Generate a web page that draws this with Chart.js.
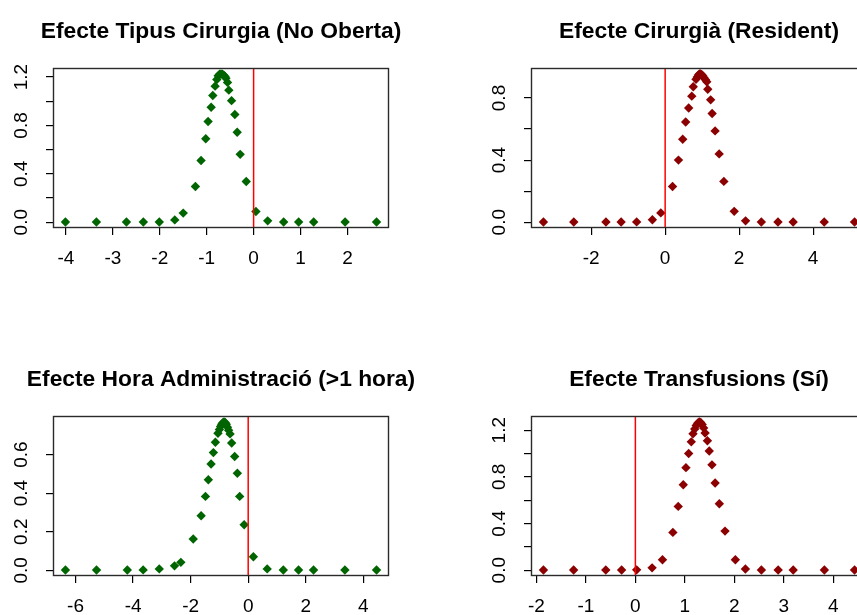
<!DOCTYPE html>
<html>
<head>
<meta charset="utf-8">
<script src="https://cdn.jsdelivr.net/npm/chart.js@4/dist/chart.umd.min.js"></script>
<style>
  html, body { margin: 0; padding: 0; background: #fff; overflow: hidden; }
  #page { position: relative; width: 857px; height: 615px; overflow: hidden; background: #fff; }
  #page canvas { position: absolute; }
</style>
</head>
<body>
<div id="page">
  <canvas id="tipus" width="442" height="278" style="left:0px;top:0px"></canvas>
  <canvas id="cirurgia" width="442" height="278" style="left:478px;top:0px"></canvas>
  <canvas id="hora" width="442" height="278" style="left:0px;top:348px"></canvas>
  <canvas id="transf" width="442" height="278" style="left:478px;top:348px"></canvas>
</div>
<script>
// Posterior density of each effect, sampled at the plotted points
const tipusX = [-4.01, -3.35, -2.71, -2.35, -2.01, -1.68, -1.50, -1.24, -1.12, -1.02, -0.97, -0.905, -0.87, -0.82, -0.784, -0.756, -0.725, -0.695, -0.665, -0.635, -0.61, -0.59, -0.556, -0.528, -0.47, -0.40, -0.35, -0.286, -0.157, 0.049, 0.30, 0.64, 0.96, 1.28, 1.95, 2.62];
const tipusY = [0.001, 0.001, 0.001, 0.001, 0.002, 0.019, 0.075, 0.295, 0.51, 0.69, 0.833, 0.95, 1.047, 1.125, 1.18, 1.21, 1.223, 1.226, 1.224, 1.215, 1.205, 1.19, 1.156, 1.092, 1.005, 0.89, 0.744, 0.561, 0.336, 0.089, 0.011, 0.001, 0.001, 0.001, 0.001, 0.001];

const cirurgiaX = [-3.29, -2.47, -1.60, -1.19, -0.77, -0.345, -0.117, 0.20, 0.36, 0.475, 0.555, 0.636, 0.72, 0.76, 0.834, 0.87, 0.90, 0.93, 0.96, 0.99, 1.02, 1.05, 1.09, 1.125, 1.152, 1.23, 1.27, 1.35, 1.46, 1.587, 1.867, 2.174, 2.60, 3.05, 3.46, 4.30, 5.12];
const cirurgiaY = [0.001, 0.001, 0.001, 0.001, 0.002, 0.016, 0.06, 0.23, 0.40, 0.534, 0.645, 0.736, 0.812, 0.872, 0.92, 0.935, 0.948, 0.955, 0.955, 0.95, 0.942, 0.93, 0.918, 0.905, 0.856, 0.788, 0.70, 0.588, 0.44, 0.263, 0.07, 0.009, 0.001, 0.001, 0.001, 0.001, 0.001];

const horaX = [-6.35, -5.27, -4.20, -3.65, -3.09, -2.56, -2.34, -1.91, -1.635, -1.485, -1.385, -1.29, -1.21, -1.14, -1.05, -1.00, -0.96, -0.92, -0.88, -0.84, -0.80, -0.76, -0.72, -0.68, -0.63, -0.574, -0.47, -0.377, -0.296, -0.14, 0.18, 0.66, 1.22, 1.75, 2.27, 3.36, 4.46];
const horaY = [0.001, 0.001, 0.001, 0.002, 0.007, 0.023, 0.041, 0.162, 0.283, 0.383, 0.469, 0.551, 0.61, 0.664, 0.71, 0.73, 0.745, 0.757, 0.765, 0.769, 0.766, 0.757, 0.742, 0.726, 0.707, 0.66, 0.59, 0.503, 0.383, 0.236, 0.07, 0.007, 0.001, 0.001, 0.001, 0.001, 0.001];

const transfX = [-1.858, -1.248, -0.598, -0.278, 0.026, 0.338, 0.548, 0.758, 0.866, 0.968, 1.022, 1.077, 1.13, 1.165, 1.20, 1.23, 1.26, 1.29, 1.32, 1.35, 1.38, 1.409, 1.456, 1.493, 1.548, 1.612, 1.697, 1.812, 2.021, 2.224, 2.547, 2.886, 3.19, 3.82, 4.43];
const transfY = [0.001, 0.001, 0.001, 0.001, 0.003, 0.02, 0.089, 0.324, 0.547, 0.733, 0.879, 1.0, 1.10, 1.17, 1.21, 1.24, 1.26, 1.271, 1.266, 1.25, 1.22, 1.176, 1.11, 1.022, 0.903, 0.748, 0.57, 0.335, 0.089, 0.01, 0.001, 0.001, 0.001, 0.001, 0.001];

// Axis ticks and their labels
const tipusXTicks = [-4, -3, -2, -1, 0, 1, 2];
const tipusXLabels = ['-4', '-3', '-2', '-1', '0', '1', '2'];
const tipusYTicks = [0, 0.2, 0.4, 0.6, 0.8, 1.0, 1.2];
const tipusYLabels = ['0.0', '', '0.4', '', '0.8', '', '1.2'];

const cirurgiaXTicks = [-2, 0, 2, 4];
const cirurgiaXLabels = ['-2', '0', '2', '4'];
const cirurgiaYTicks = [0, 0.2, 0.4, 0.6, 0.8];
const cirurgiaYLabels = ['0.0', '', '0.4', '', '0.8'];

const horaXTicks = [-6, -4, -2, 0, 2, 4];
const horaXLabels = ['-6', '-4', '-2', '0', '2', '4'];
const horaYTicks = [0, 0.2, 0.4, 0.6];
const horaYLabels = ['0.0', '0.2', '0.4', '0.6'];

const transfXTicks = [-2, -1, 0, 1, 2, 3, 4];
const transfXLabels = ['-2', '-1', '0', '1', '2', '3', '4'];
const transfYTicks = [0, 0.2, 0.4, 0.6, 0.8, 1.0, 1.2];
const transfYLabels = ['0.0', '', '0.4', '', '0.8', '', '1.2'];

const titles = [
  'Efecte Tipus Cirurgia (No Oberta)',
  'Efecte Cirurgià (Resident)',
  'Efecte Hora Administració (>1 hora)',
  'Efecte Transfusions (Sí)'
];

const GREEN = '#006400';
const DARKRED = '#8b0000';
const FONT = "'Liberation Sans', Arial, Helvetica, sans-serif";

Chart.defaults.font.family = FONT;
Chart.defaults.color = '#000';

// Axis range padded by 4% of the data span on each side
function paddedRange(values) {
  const lo = Math.min(...values);
  const hi = Math.max(...values);
  const pad = 0.04 * (hi - lo);
  return [lo - pad, hi + pad];
}

// Frame around the plotting region
const plotBox = {
  id: 'plotBox',
  afterDraw(chart) {
    const { ctx, chartArea: a } = chart;
    ctx.save();
    ctx.strokeStyle = '#2a2a2a';
    ctx.lineWidth = 1.4;
    ctx.strokeRect(Math.round(a.left) + 0.5, Math.round(a.top) + 0.5,
                   Math.round(a.right - a.left) - 1, Math.round(a.bottom - a.top) - 1);
    ctx.restore();
  }
};

function drawPanel(id, title, xs, ys, color, xTicks, xLabels, yTicks, yLabels) {
  const xr = paddedRange(xs);
  const yr = paddedRange(ys);
  const points = xs.map((x, i) => ({ x: x, y: ys[i] }));
  const tickGrid = { display: true, drawOnChartArea: false, drawTicks: true, tickLength: 7, color: '#000', lineWidth: 1.2 };

  new Chart(document.getElementById(id), {
    type: 'scatter',
    data: {
      datasets: [
        {
          // reference line at zero effect
          data: [{ x: 0, y: yr[0] }, { x: 0, y: yr[1] }],
          showLine: true,
          borderColor: '#ff0000',
          borderWidth: 1.5,
          pointRadius: 0,
          fill: false
        },
        {
          data: points,
          pointStyle: 'rectRot',
          pointRadius: 4.7,
          pointHoverRadius: 4.7,
          backgroundColor: color,
          borderColor: color,
          borderWidth: 0
        }
      ]
    },
    options: {
      responsive: false,
      animation: false,
      devicePixelRatio: 1,
      events: [],
      layout: { padding: 0 },
      plugins: {
        legend: { display: false },
        tooltip: { enabled: false },
        title: {
          display: true,
          text: title,
          color: '#000',
          font: { family: FONT, size: 22.8, weight: 'bold', lineHeight: 1.2 },
          padding: { top: 18, bottom: 22.64 }
        }
      },
      scales: {
        x: {
          type: 'linear',
          min: xr[0],
          max: xr[1],
          afterBuildTicks: s => { s.ticks = xTicks.map(v => ({ value: v })); },
          afterFit: s => { s.height = 50; },
          grid: tickGrid,
          border: { display: false },
          ticks: {
            autoSkip: false, maxRotation: 0, minRotation: 0, padding: 12,
            color: '#000', font: { family: FONT, size: 19 },
            callback: (v, i) => xLabels[i]
          }
        },
        y: {
          type: 'linear',
          min: yr[0],
          max: yr[1],
          afterBuildTicks: s => { s.ticks = yTicks.map(v => ({ value: v })); },
          afterFit: s => { s.width = 53; },
          grid: tickGrid,
          border: { display: false },
          ticks: {
            autoSkip: false, minRotation: 90, maxRotation: 90, crossAlign: 'center', padding: 11,
            color: '#000', font: { family: FONT, size: 19 },
            callback: (v, i) => yLabels[i]
          }
        },
        // empty right margin so the title centres over the plotting region
        yMargin: {
          type: 'linear',
          position: 'right',
          min: yr[0],
          max: yr[1],
          afterFit: s => { s.width = 53; },
          grid: { display: false },
          border: { display: false },
          ticks: { display: false }
        }
      }
    },
    plugins: [plotBox]
  });
}

drawPanel('tipus', titles[0], tipusX, tipusY, GREEN, tipusXTicks, tipusXLabels, tipusYTicks, tipusYLabels);
drawPanel('cirurgia', titles[1], cirurgiaX, cirurgiaY, DARKRED, cirurgiaXTicks, cirurgiaXLabels, cirurgiaYTicks, cirurgiaYLabels);
drawPanel('hora', titles[2], horaX, horaY, GREEN, horaXTicks, horaXLabels, horaYTicks, horaYLabels);
drawPanel('transf', titles[3], transfX, transfY, DARKRED, transfXTicks, transfXLabels, transfYTicks, transfYLabels);
</script>
</body>
</html>
